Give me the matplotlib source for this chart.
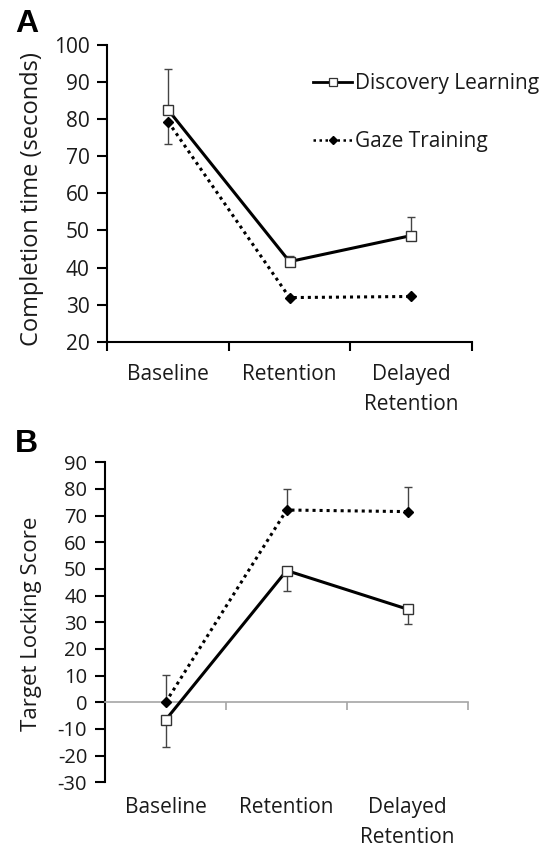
import matplotlib
matplotlib.use("Agg")
import matplotlib.pyplot as plt
from matplotlib.lines import Line2D
import numpy as np

plt.rcParams['font.family'] = ['Open Sans', 'DejaVu Sans']
plt.rcParams['axes.unicode_minus'] = False

categories = ["Baseline", "Retention", "Delayed\nRetention"]
series_names = ["Discovery Learning", "Gaze Training"]

# Panel A: completion time (seconds)
a_discovery = [82.5, 41.6, 48.6]
a_discovery_err_up = [11.0, 1.4, 4.9]
a_gaze = [79.3, 31.9, 32.2]
a_gaze_err_down = [6.0, 0.0, 0.0]
a_yticks = [20, 30, 40, 50, 60, 70, 80, 90, 100]

# Panel B: target locking score
b_discovery = [-6.6, 49.4, 34.9]
b_discovery_err_down = [10.0, 7.5, 5.7]
b_gaze = [0.0, 72.1, 71.5]
b_gaze_err_up = [10.3, 7.8, 9.3]
b_yticks = [-30, -20, -10, 0, 10, 20, 30, 40, 50, 60, 70, 80, 90]

x = np.arange(len(categories))
fig = plt.figure(figsize=(5.49, 8.49), dpi=100)

TXT = '#1a1a1a'
disc_style = dict(color='black', linestyle='-', linewidth=2.2, marker='s',
                  markersize=6.5, markerfacecolor='white', markeredgecolor='#333333',
                  markeredgewidth=1.0, zorder=3)
gaze_style = dict(color='black', linestyle=(0, (1, 1.3)), linewidth=2.2, marker='D',
                  markersize=5.5, markerfacecolor='black', markeredgecolor='black', zorder=3)
err_style = dict(fmt='none', ecolor='#444444', elinewidth=1.0, capsize=3, capthick=1.0, zorder=2)

# ---------- Panel A ----------
axA = fig.add_axes([0.1958, 0.5975, 0.6632, 0.3495])
axA.errorbar(x, a_discovery, yerr=[np.zeros(3), a_discovery_err_up], **err_style)
axA.errorbar(x, a_gaze, yerr=[a_gaze_err_down, np.zeros(3)], **err_style)
axA.plot(x, a_gaze, **gaze_style)
axA.plot(x, a_discovery, **disc_style)
axA.set_xlim(-0.5, 2.5)
axA.set_ylim(20, 100)
axA.set_yticks(a_yticks)
axA.tick_params(axis='y', labelsize=15, length=7, width=1.5, direction='out', pad=6,
                labelcolor=TXT)
axA.set_xticks(x)
axA.set_xticklabels(categories, fontsize=15, linespacing=1.55, color=TXT)
axA.tick_params(axis='x', which='major', length=0, pad=16)
axA.set_xticks([-0.5, 0.5, 1.5, 2.5], minor=True)
axA.tick_params(axis='x', which='minor', length=6.5, width=1.5, direction='out')
for s in ['top', 'right']:
    axA.spines[s].set_visible(False)
for s in ['left', 'bottom']:
    axA.spines[s].set_linewidth(1.5)
fig.text(0.0576, 0.7656, "Completion time (seconds)", fontsize=17, rotation=90,
         ha='center', va='center', color=TXT)

handles = [
    Line2D([], [], color='black', linestyle='-', linewidth=2.0, marker='s', markersize=5.5,
           markerfacecolor='white', markeredgecolor='#333333', markeredgewidth=0.9),
    Line2D([], [], color='black', linestyle=(0, (1, 1.4)), linewidth=1.8, marker='D',
           markersize=4.5, markerfacecolor='black', markeredgecolor='black'),
]
axA.legend(handles, series_names, loc='center left', bbox_to_anchor=(0.564, 0.772),
           frameon=False, fontsize=15, handlelength=1.9, handletextpad=0.1,
           labelspacing=1.8, borderaxespad=0, borderpad=0, labelcolor=TXT)
fig.text(0.028, 1 - 31.7 / 849, "A", fontsize=23, fontweight='bold',
         family='Liberation Sans', va='baseline', ha='left')

# ---------- Panel B ----------
axB = fig.add_axes([0.1916, 0.0786, 0.6612, 0.3769])
axB.errorbar(x, b_discovery, yerr=[b_discovery_err_down, np.zeros(3)], **err_style)
axB.errorbar(x, b_gaze, yerr=[np.zeros(3), b_gaze_err_up], **err_style)
axB.plot(x, b_gaze, **gaze_style)
axB.plot(x, b_discovery, **disc_style)
axB.set_xlim(-0.5, 2.5)
axB.set_ylim(-30, 90)
axB.set_yticks(b_yticks)
axB.tick_params(axis='y', labelsize=14.5, length=7, width=1.5, direction='out', pad=6,
                labelcolor=TXT)
axB.spines['bottom'].set_position(('data', 0))
axB.spines['bottom'].set_color('#a6a6a6')
axB.spines['bottom'].set_linewidth(1.2)
axB.set_xticks([])
axB.set_xticks([0.5, 1.5, 2.5], minor=True)
axB.tick_params(axis='x', which='minor', length=6, width=1.2, color='#a6a6a6', direction='out')
for s in ['top', 'right']:
    axB.spines[s].set_visible(False)
axB.spines['left'].set_linewidth(1.5)
sec = axB.secondary_xaxis('bottom')
sec.spines['bottom'].set_visible(False)
sec.set_xticks(x)
sec.set_xticklabels(categories, fontsize=15, linespacing=1.55, color=TXT)
sec.tick_params(axis='x', length=0, pad=10.5)
fig.text(0.057, 1 - 624 / 849, "Target Locking Score", fontsize=16, rotation=90,
         ha='center', va='center', color=TXT)
fig.text(0.028, 1 - 451.7 / 849, "B", fontsize=23, fontweight='bold',
         family='Liberation Sans', va='baseline', ha='left')

fig.savefig("out.png", dpi=100)
